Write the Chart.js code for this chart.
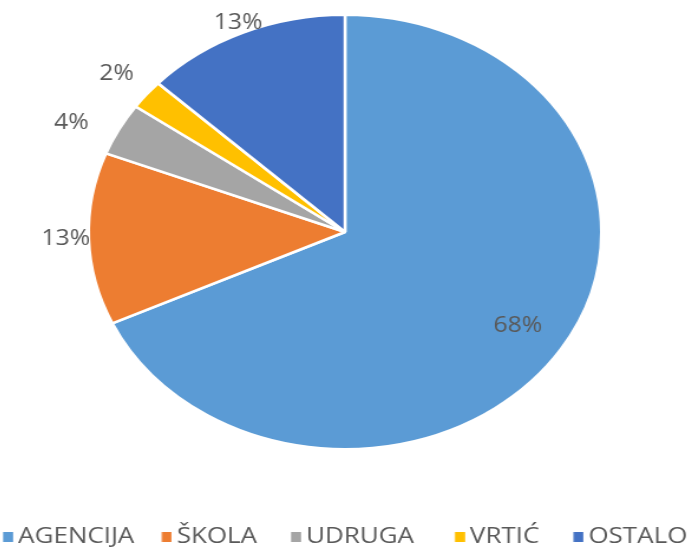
<!DOCTYPE html>
<html>
<head>
<meta charset="utf-8">
<script src="https://cdn.jsdelivr.net/npm/chart.js@4/dist/chart.umd.min.js"></script>
<style>
  html, body { margin: 0; padding: 0; background: #fff; overflow: hidden; }
  /* the original picture is stretched sideways, so the whole chart is too */
  #wrap { width: 588px; height: 547px; transform: translateX(-2px) scaleX(1.1803); transform-origin: 0 0; }
</style>
</head>
<body>
<div id="wrap"><canvas id="pie"></canvas></div>
<script>
// data (share in %)
const categories = ["AGENCIJA", "ŠKOLA", "UDRUGA", "VRTIĆ", "OSTALO"];
const shares = [68.1, 12.8, 3.9, 2.2, 13.0];
const colors = ["#5B9BD5", "#ED7D31", "#A5A5A5", "#FFC000", "#4472C4"];

// where each % label sits: fraction of radius, small angle nudge (deg)
const labelRadius = [0.80, 1.09, 1.18, 1.15, 1.05];
const labelNudge = [0, 0, -3, 0, 0];
// trailing gap after each legend entry (spaces)
const legendGap = [4, 5, 6, 5, 0];

Chart.defaults.font.family = "'Open Sans', sans-serif";
Chart.defaults.color = "#595959";

const total = shares.reduce((a, b) => a + b, 0);

// small square swatch, drawn close to its text (chart.js leaves a wide gap otherwise)
function swatch(color) {
  const c = document.createElement("canvas");
  c.width = 16;
  c.height = 10;
  const g = c.getContext("2d");
  g.fillStyle = color;
  g.fillRect(7.3, 0, 8.5, 10);
  return c;
}

const pctLabels = {
  id: "pctLabels",
  afterDatasetsDraw(chart) {
    const ctx = chart.ctx;
    const meta = chart.getDatasetMeta(0);
    ctx.save();
    ctx.font = "21px 'Open Sans', sans-serif";
    ctx.fillStyle = "#595959";
    ctx.textAlign = "center";
    ctx.textBaseline = "middle";
    meta.data.forEach((arc, i) => {
      const p = arc.getProps(["x", "y", "startAngle", "endAngle", "outerRadius"], true);
      const a = (p.startAngle + p.endAngle) / 2 + labelNudge[i] * Math.PI / 180;
      const r = p.outerRadius * labelRadius[i];
      const txt = Math.round(shares[i] / total * 100) + "%";
      ctx.fillText(txt, p.x + r * Math.cos(a), p.y + r * Math.sin(a));
    });
    ctx.restore();
  }
};

new Chart(document.getElementById("pie"), {
  type: "pie",
  data: {
    labels: categories,
    datasets: [{
      data: shares,
      backgroundColor: colors,
      borderColor: "#ffffff",
      borderWidth: 2.5
    }]
  },
  options: {
    responsive: true,
    maintainAspectRatio: false,
    animation: false,
    layout: { padding: { top: 13.5 } },
    plugins: {
      tooltip: { enabled: false },
      legend: {
        position: "bottom",
        maxHeight: 96.5,
        title: { display: true, text: " ", font: { size: 10, lineHeight: 1 }, padding: { top: 65, bottom: 0 } },
        labels: {
          padding: 0,
          usePointStyle: true,
          pointStyleWidth: 2,
          boxHeight: 10,
          font: { size: 22 },
          color: "#595959",
          generateLabels(chart) {
            const items = Chart.overrides.pie.plugins.legend.labels.generateLabels(chart);
            items.forEach((it, i) => {
              it.text = it.text + " ".repeat(legendGap[i]);
              it.lineWidth = 0;
              it.pointStyle = swatch(colors[i]);
            });
            return items;
          }
        }
      }
    }
  },
  plugins: [pctLabels]
});
</script>
</body>
</html>
